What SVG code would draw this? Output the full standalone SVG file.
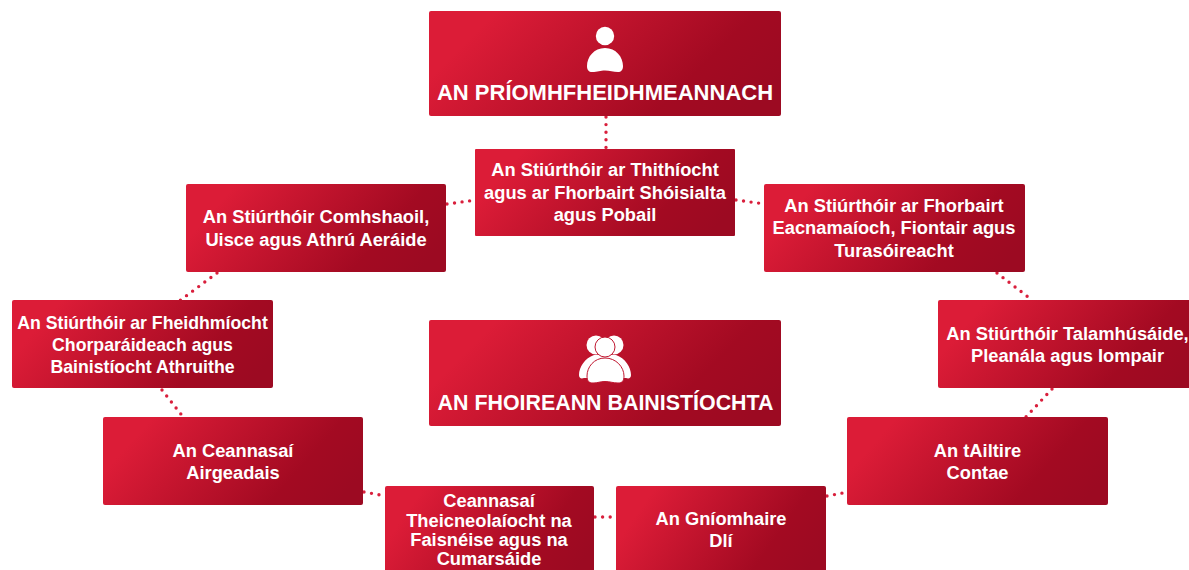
<svg xmlns="http://www.w3.org/2000/svg" width="1189" height="570" viewBox="0 0 1189 570">
<defs>
<linearGradient id="g" x1="0" y1="0.35" x2="1" y2="0.65">
<stop offset="0.08" stop-color="#dc1c37"/>
<stop offset="0.76" stop-color="#a30a22"/>
<stop offset="1" stop-color="#9c0a22"/>
</linearGradient>
</defs>
<style>
text{font-family:"Liberation Sans",Arial,sans-serif;font-weight:700;fill:#fff;text-anchor:middle;font-size:18.3px}
.t{font-size:22px}
.u{font-size:21.4px}
.f{font-size:17.7px}
.b{fill:url(#g)}
.c{fill:none;stroke:#d91f3c;stroke-width:3.4;stroke-linecap:round;stroke-dasharray:0 7.6}
.w{fill:#fff}
</style>
<rect width="1189" height="570" fill="#fff"/>
<g id="connectors">
<path class="c" d="M606 117V149"/>
<path class="c" d="M447 204L476 200"/>
<path class="c" d="M736 200L765 204"/>
<path class="c" d="M217 273L178 302"/>
<path class="c" d="M162 390L184 418"/>
<path class="c" d="M364 492L386 496"/>
<path class="c" d="M595 517H617"/>
<path class="c" d="M827 496L848 492"/>
<path class="c" d="M1052 389L1025 418"/>
<path class="c" d="M997 273L1032 300"/>
</g>
<g id="priomhfheidhmeannach">
<rect class="b" x="429" y="11" width="352" height="105" rx="2"/>
<circle class="w" cx="605" cy="36" r="9.2"/>
<path class="w" d="M605 48C594 48 587 57 587 66C587 70 589 72 592 72C598 72 600 70.500 605 70.500C610 70.500 613 72 618 72C621 72 623 70 623 66C623 57 616 48 605 48Z"/>
<text class="t" x="605" y="100">AN PRÍOMHFHEIDHMEANNACH</text>
</g>
<g id="foireann">
<rect class="b" x="429" y="320" width="352" height="106" rx="2"/>
<circle class="w" cx="596" cy="345" r="9.500"/>
<circle class="w" cx="614" cy="345" r="9.500"/>
<path class="w" d="M594 355C585 358 579 367 579 375C579 378 581 379 584 378L626 378C629 379 631 378 631 375C631 367 625 358 616 355Z"/>
<circle class="w" cx="605" cy="347" r="10" stroke="#c01730" stroke-width="1"/>
<path class="w" stroke="#c01730" stroke-width="1" d="M605 358C594 358 587 367 587 376C587 381 589 383 593 383C598 383 600 381.500 605 381.500C610 381.500 613 383 618 383C622 383 624 381 624 376C624 367 616 358 605 358Z"/>
<text class="u" x="605.500" y="410">AN FHOIREANN BAINISTÍOCHTA</text>
</g>
<g id="tithiocht">
<rect class="b" x="475" y="149" width="260" height="87" rx="1"/>
<text x="605" y="176">An Stiúrthóir ar Thithíocht</text>
<text x="605" y="199">agus ar Fhorbairt Shóisialta</text>
<text x="605" y="221">agus Pobail</text>
</g>
<g id="comhshaoil">
<rect class="b" x="186" y="184" width="260" height="88" rx="2"/>
<text x="316" y="223">An Stiúrthóir Comhshaoil,</text>
<text x="316" y="246">Uisce agus Athrú Aeráide</text>
</g>
<g id="fhorbairt">
<rect class="b" x="764" y="184" width="261" height="88" rx="2"/>
<text x="894" y="212">An Stiúrthóir ar Fhorbairt</text>
<text x="894" y="234">Eacnamaíoch, Fiontair agus</text>
<text x="894" y="257">Turasóireacht</text>
</g>
<g id="fheidhmiocht">
<rect class="b" x="12" y="300" width="261" height="88" rx="2"/>
<text class="f" x="142.500" y="329">An Stiúrthóir ar Fheidhmíocht</text>
<text class="f" x="142.500" y="351">Chorparáideach agus</text>
<text class="f" x="142.500" y="373">Bainistíocht Athruithe</text>
</g>
<g id="talamhusaide">
<rect class="b" x="938" y="300" width="260" height="88" rx="2"/>
<text x="1067.500" y="340">An Stiúrthóir Talamhúsáide,</text>
<text x="1067.500" y="362">Pleanála agus Iompair</text>
</g>
<g id="airgeadais">
<rect class="b" x="103" y="417" width="260" height="88" rx="2"/>
<text x="233" y="457">An Ceannasaí</text>
<text x="233" y="479">Airgeadais</text>
</g>
<g id="tailtire">
<rect class="b" x="847" y="417" width="261" height="88" rx="2"/>
<text x="977.500" y="457">An tAiltire</text>
<text x="977.500" y="479">Contae</text>
</g>
<g id="faisneis">
<rect class="b" x="385" y="486" width="209" height="90" rx="2"/>
<text x="489" y="507">Ceannasaí</text>
<text x="489" y="527">Theicneolaíocht na</text>
<text x="489" y="546">Faisnéise agus na</text>
<text x="489" y="565">Cumarsáide</text>
</g>
<g id="dli">
<rect class="b" x="616" y="486" width="210" height="90" rx="2"/>
<text x="721" y="525">An Gníomhaire</text>
<text x="721" y="547">Dlí</text>
</g>
</svg>
